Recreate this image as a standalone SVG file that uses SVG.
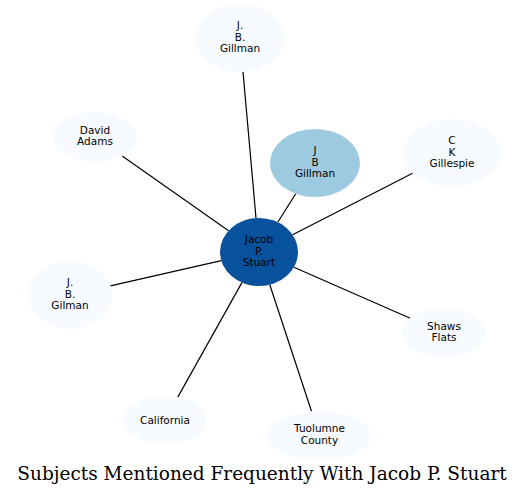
<svg xmlns="http://www.w3.org/2000/svg" width="529" height="496" viewBox="0 0 529 496">
<style>
.n text{font-family:"DejaVu Sans",sans-serif;font-size:10.5px;fill:#000;text-anchor:middle}
.e line{stroke:#000;stroke-width:1.2}
.lt{fill:#f7fbff}
.title{font-family:"DejaVu Serif",serif;font-size:18.5px;fill:#000;text-anchor:middle}
</style>
<rect width="529" height="496" fill="#fff"/>
<g id="edges" class="e">
<line x1="256" y1="218.1" x2="243" y2="71.9"/>
<line x1="277.8" y1="222.2" x2="295.7" y2="193.7"/>
<line x1="292.6" y1="234.8" x2="412.6" y2="173.2"/>
<line x1="228.6" y1="230.7" x2="122.2" y2="156.1"/>
<line x1="221.3" y1="260.6" x2="110.4" y2="285.8"/>
<line x1="293.9" y1="267.3" x2="410.2" y2="318.2"/>
<line x1="241.9" y1="282.6" x2="177.8" y2="397.1"/>
<line x1="269.8" y1="284.7" x2="311.5" y2="411.3"/>
</g>
<g id="n_jacob" class="n">
<ellipse cx="259" cy="252" rx="39" ry="34" fill="#08519c"/>
<text x="259" y="243">Jacob</text><text x="259" y="254.5">P.</text><text x="259" y="266">Stuart</text>
</g>
<g id="n_jbgillman1" class="n">
<ellipse class="lt" cx="240" cy="38" rx="45" ry="34"/>
<text x="240" y="29">J.</text><text x="240" y="40.5">B.</text><text x="240" y="52">Gillman</text>
</g>
<g id="n_jbgillman2" class="n">
<ellipse cx="315" cy="163" rx="45" ry="34" fill="#9ecae1"/>
<text x="315" y="154">J</text><text x="315" y="165.5">B</text><text x="315" y="177">Gillman</text>
</g>
<g id="n_ckgillespie" class="n">
<ellipse class="lt" cx="452" cy="153" rx="49" ry="34"/>
<text x="452" y="144">C</text><text x="452" y="155.5">K</text><text x="452" y="167">Gillespie</text>
</g>
<g id="n_davidadams" class="n">
<ellipse class="lt" cx="95" cy="137" rx="42" ry="25"/>
<text x="95" y="133.5">David</text><text x="95" y="145">Adams</text>
</g>
<g id="n_jbgilman" class="n">
<ellipse class="lt" cx="70" cy="295" rx="42" ry="34"/>
<text x="70" y="286">J.</text><text x="70" y="297.5">B.</text><text x="70" y="309">Gilman</text>
</g>
<g id="n_shawsflats" class="n">
<ellipse class="lt" cx="444" cy="333" rx="42" ry="25"/>
<text x="444" y="329.5">Shaws</text><text x="444" y="341">Flats</text>
</g>
<g id="n_california" class="n">
<ellipse class="lt" cx="165" cy="420" rx="42" ry="24"/>
<text x="165" y="423.5">California</text>
</g>
<g id="n_tuolumne" class="n">
<ellipse class="lt" cx="319.5" cy="435.5" rx="52.5" ry="24.5"/>
<text x="319.5" y="432">Tuolumne</text><text x="319.5" y="443.5">County</text>
</g>
<text class="title" x="262" y="480">Subjects Mentioned Frequently With Jacob P. Stuart</text>
</svg>
